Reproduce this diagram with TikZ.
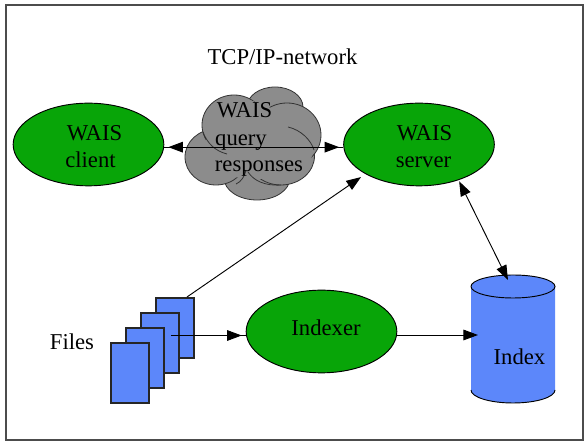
\documentclass[tikz,border=0pt]{standalone}
\usepackage{fontspec}
\setmainfont{Liberation Serif}
\usetikzlibrary{arrows.meta,shapes.geometric}
\definecolor{waisgreen}{RGB}{8,165,8}
\definecolor{waisblue}{RGB}{92,135,250}
\definecolor{waisgray}{RGB}{140,140,140}
\tikzset{
	lbl/.style={font=\fontsize{17}{17}\selectfont, inner sep=0pt, anchor=base},
	blob/.style={ellipse, draw=black, line width=0.7pt, fill=waisgreen, inner sep=0pt, minimum width=113pt, minimum height=62pt},
	sheet/.style={draw=black!85, line width=1pt, fill=waisblue, inner sep=0pt, minimum width=28.5pt, minimum height=45pt},
	lobe/.style={draw=black!80, line width=0.6pt, fill=waisgray},
	seam/.style={draw=black!80, line width=0.6pt},
	conn/.style={line width=0.7pt}
}
\begin{document}
\begin{tikzpicture}[x=0.75pt, y=-0.75pt, >={Triangle[length=11pt,width=8pt]}]
	\useasboundingbox (0,0) rectangle (586,448);
	
	% Marco
	\draw [black!70, line width=1pt] (6,5) rectangle (583,440);
	
	% Nube
	\foreach \x/\y/\a/\b in {257/178/33/22, 275/107/28/20, 216/157/31/28, 281/156/33.5/29, 287/135/34/32, 234/125/32/30}
	\draw [lobe] (\x,\y) ellipse [x radius=\a, y radius=\b];
	\fill [waisgray] (250,100) -- (271,108) -- (300,114) -- (313,150) -- (309,170) -- (300,175) -- (250,180) -- (225,175) -- (205,150) -- (208,120) -- (225,100) -- cycle;
	\draw [seam] (288,127) .. controls (301,130) and (311,140) .. (314,150);
	\draw [seam] (203,132) .. controls (207,143) and (215,151) .. (227,154);
	\draw [seam] (246,170) .. controls (245,176) and (241,182) .. (236,184);
	\draw [seam] (248,172) .. controls (254,181) and (265,186) .. (281,185);
	
	% Elipses
	\node [blob] (client) at (88.5,144.5) {};
	\node [blob] (server) at (419,144.5) {};
	\node [blob] (indexer) at (321.5,331.5) {};
	
	% Hojas
	\foreach \m/\x/\y in {4/175/328, 3/160/343, 2/145/358, 1/130/373}
	\node [sheet] (file-\m) at (\x,\y) {};
	
	% Cilindro
	\fill [waisblue] (471,286.5) -- (555,286.5) -- (555,390) arc [start angle=0, end angle=180, x radius=42, y radius=13] -- cycle;
	\draw [line width=0.7pt, fill=waisblue] (513,286.5) ellipse [x radius=42, y radius=11.5];
	\draw [line width=0.7pt] (471,390) arc [start angle=180, end angle=0, x radius=42, y radius=13];
	
	% Textos
	\node [lbl] (title) at (282.5,65) {TCP/IP-network};
	\node [lbl] (files) at (72,349.5) {Files};
	\node [lbl] (index) at (519.5,365) {Index};
	\node [lbl] (client-1) at (94.5,140.5) {WAIS};
	\node [lbl] (client-2) at (90.5,167.5) {client};
	\node [lbl] (server-1) at (424.5,140.5) {WAIS};
	\node [lbl] (server-2) at (423.5,167.5) {server};
	\node [lbl] (indexer-1) at (326,335.5) {Indexer};
	\node [lbl] (cloud-1) at (244.5,117.5) {WAIS};
	\node [lbl] (cloud-2) at (241,145.5) {query};
	\node [lbl] (cloud-3) at (259,171.5) {responses};
	
	% Conexiones
	\coordinate (index-top) at (508,280);
	\coordinate (index-side) at (478,335);
	\coordinate (file-out) at (171,335.5);
	\coordinate (file-corner) at (187,297);
	\draw [conn] ([yshift=-2pt]client.east) -- ([yshift=-2pt]server.west);
	\draw [conn, <->, shorten <=3pt, shorten >=3pt] ([yshift=-2pt]client.east) -- ([yshift=-2pt]server.west);
	\draw [conn, ->, shorten >=4pt] (file-corner) -- (server.south west);
	\draw [conn, <->, shorten <=1pt] (server.-42) -- (index-top);
	\draw [conn] (file-out) -- (file-out -| indexer.west);
	\draw [conn, ->, shorten >=3pt] (file-out) -- (file-out -| indexer.west);
	\draw [conn, ->] (indexer.east |- index-side) -- (index-side);
	
\end{tikzpicture}
\end{document}
